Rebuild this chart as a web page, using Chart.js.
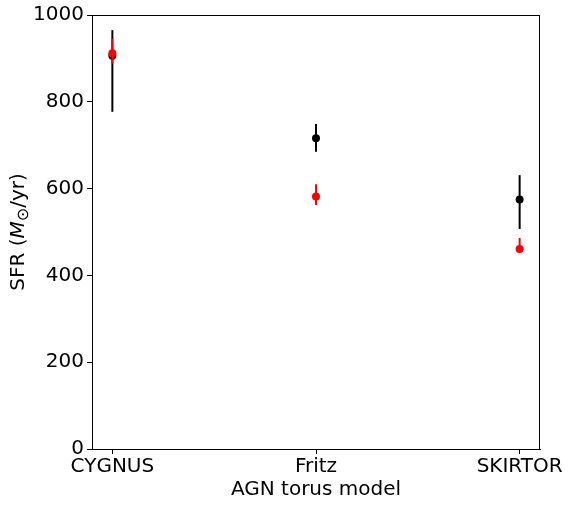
<!DOCTYPE html>
<html lang="en">
<head>
  <meta charset="UTF-8">
  <title>SFR vs AGN torus model</title>
  <script src="https://cdn.jsdelivr.net/npm/chart.js"></script>
  <style>
    html, body { margin: 0; padding: 0; background: #fff; }
    #wrap { width: 568px; height: 505px; }
  </style>
</head>
<body>
  <div id="wrap"><canvas id="sfrChart" width="568" height="505"></canvas></div>
  <script>
    // torus models on the x axis
    const categories = ['CYGNUS', 'Fritz', 'SKIRTOR'];
    // black series: value, lower and upper end of error bar
    const blackSfr = [906, 716, 575];
    const blackLow = [777, 685, 507];
    const blackHigh = [965, 749, 631];
    // red series
    const redSfr = [912, 582, 461];
    const redLow = [889, 562, 455];
    const redHigh = [945, 610, 486];
    const yTicks = [0, 200, 400, 600, 800, 1000];

    const FONT = 'DejaVu Sans';

    function toPoints(vals) {
      return vals.map((v, i) => ({ x: i, y: v }));
    }

    // draws vertical error bars for a dataset just before its points
    const errorBars = {
      id: 'errorBars',
      beforeDatasetDraw(chart, args) {
        const ds = chart.data.datasets[args.index];
        if (!ds.errLow) return;
        const { ctx, scales: { x, y } } = chart;
        ctx.save();
        ctx.strokeStyle = ds.barColor;
        ctx.lineWidth = 2;
        ds.errLow.forEach((lo, i) => {
          const px = x.getPixelForValue(i);
          ctx.beginPath();
          ctx.moveTo(px, y.getPixelForValue(lo));
          ctx.lineTo(px, y.getPixelForValue(ds.errHigh[i]));
          ctx.stroke();
        });
        ctx.restore();
      }
    };

    // frame and axis titles
    const frame = {
      id: 'frame',
      afterDraw(chart) {
        const { ctx, chartArea: a } = chart;
        ctx.save();
        ctx.strokeStyle = '#000';
        ctx.lineWidth = 1;
        ctx.strokeRect(a.left + 0.5, a.top + 0.5, a.right - a.left - 1, a.bottom - a.top);

        ctx.fillStyle = '#000';
        ctx.font = '20px "' + FONT + '"';
        ctx.textAlign = 'center';
        ctx.textBaseline = 'alphabetic';
        ctx.fillText('AGN torus model', (a.left + a.right) / 2, 495);

        // y title: SFR (M⊙/yr) with italic M and subscript sun
        ctx.translate(24, (a.top + a.bottom) / 2);
        ctx.rotate(-Math.PI / 2);
        const parts = [
          { t: 'SFR (', f: '20px "' + FONT + '"', dy: 0 },
          { t: 'M', f: 'italic 20px "' + FONT + '"', dy: 0 },
          { t: '\u2299', f: '16px "' + FONT + '"', dy: 4 },
          { t: '/yr)', f: '20px "' + FONT + '"', dy: 0 }
        ];
        let total = 0;
        parts.forEach(p => { ctx.font = p.f; p.w = ctx.measureText(p.t).width; total += p.w; });
        let cx = -total / 2;
        ctx.textAlign = 'left';
        parts.forEach(p => {
          ctx.font = p.f;
          ctx.fillText(p.t, cx, p.dy);
          cx += p.w;
        });
        ctx.restore();
      }
    };

    const ctx = document.getElementById('sfrChart').getContext('2d');
    new Chart(ctx, {
      type: 'scatter',
      data: {
        datasets: [
          {
            label: 'red',
            data: toPoints(redSfr),
            errLow: redLow,
            errHigh: redHigh,
            barColor: '#ff0000',
            backgroundColor: '#ff0000',
            borderColor: '#ff0000',
            pointRadius: 4,
            borderWidth: 0
          },
          {
            label: 'black',
            data: toPoints(blackSfr),
            errLow: blackLow,
            errHigh: blackHigh,
            barColor: '#000000',
            backgroundColor: '#000000',
            borderColor: '#000000',
            pointRadius: 4,
            borderWidth: 0
          }
        ]
      },
      options: {
        responsive: false,
        animation: false,
        layout: { padding: { top: 15, right: 28, left: 0, bottom: 0 } },
        plugins: {
          legend: { display: false },
          tooltip: { enabled: false }
        },
        scales: {
          x: {
            type: 'linear',
            min: -0.1,
            max: 2.1,
            afterBuildTicks: s => { s.ticks = categories.map((c, i) => ({ value: i })); },
            afterFit: s => { s.height = 56; },
            ticks: {
              color: '#000',
              font: { family: FONT, size: 20 },
              padding: 1,
              maxRotation: 0,
              autoSkip: false,
              callback: v => categories[v]
            },
            grid: { drawOnChartArea: false, drawTicks: true, tickLength: 5, color: '#000' },
            border: { display: true, color: '#000' }
          },
          y: {
            min: 0,
            max: 1000,
            afterBuildTicks: s => { s.ticks = yTicks.map(v => ({ value: v })); },
            afterFit: s => { s.width = 92; },
            ticks: {
              color: '#000',
              font: { family: FONT, size: 20 },
              padding: 3,
              callback: v => String(v)
            },
            grid: { drawOnChartArea: false, drawTicks: true, tickLength: 5, color: '#000' },
            border: { display: true, color: '#000' }
          }
        }
      },
      plugins: [errorBars, frame]
    });
  </script>
</body>
</html>
